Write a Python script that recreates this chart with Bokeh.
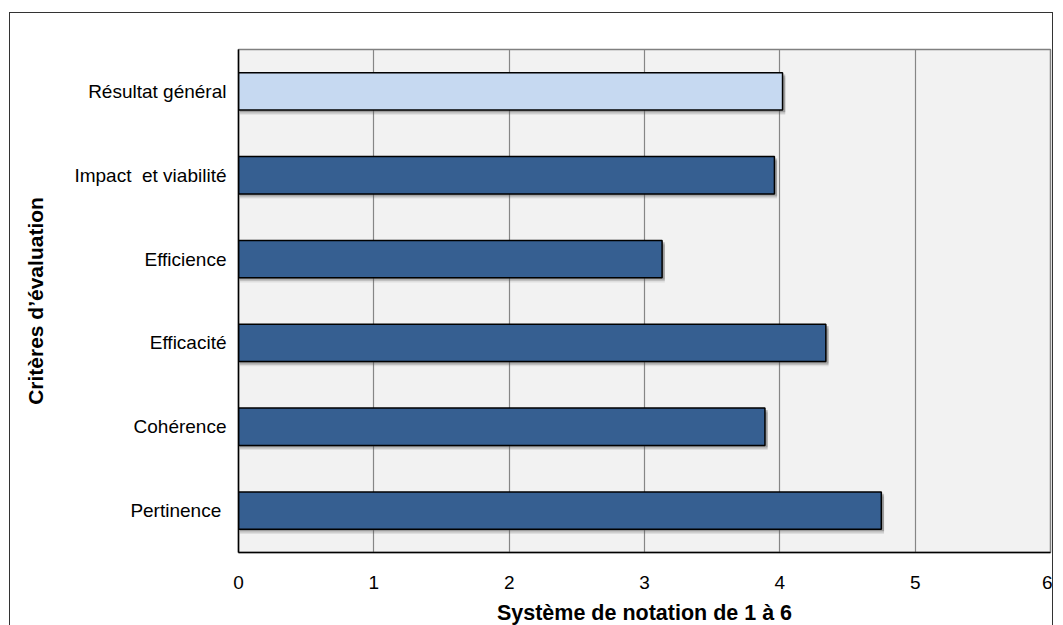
from bokeh.plotting import figure
from bokeh.models import FactorRange, Range1d, FixedTicker, ColumnDataSource
from bokeh.transform import dodge
from bokeh.embed import file_html
from bokeh.resources import INLINE

# Evaluation criteria (bottom to top) and their scores on a 1-6 scale
categories = ["Pertinence\u00a0", "Cohérence", "Efficacité", "Efficience",
              "Impact\u00a0 et viabilité", "Résultat général"]
scores = [4.75, 3.89, 4.34, 3.13, 3.96, 4.02]
x_ticks = [0, 1, 2, 3, 4, 5, 6]

DARK = "#365F91"
LIGHT = "#C6D9F1"
bar_colors = [DARK] * 5 + [LIGHT]

FONT = "Liberation Sans, Arial, sans-serif"

source = ColumnDataSource(dict(cat=categories, score=scores, color=bar_colors,
                               shadow=[s + 0.02 for s in scores]))

p = figure(width=1044, height=640,
           y_range=FactorRange(factors=categories, range_padding=0),
           x_range=Range1d(0, 6),
           output_backend="svg", toolbar_location=None,
           min_border_left=228, min_border_right=4,
           min_border_top=36, min_border_bottom=101)
p.styles = {"margin-left": "9px", "margin-top": "12px",
            "border": "1.5px solid #333333"}

p.background_fill_color = "#F2F2F2"
p.border_fill_color = "white"
p.outline_line_color = "#808080"
p.outline_line_width = 1.5

# soft drop shadow under each bar
for off, alpha in [(-0.022, 0.32), (-0.040, 0.22), (-0.056, 0.12)]:
    p.hbar(y=dodge("cat", off, range=p.y_range), left=0.01, right="shadow",
           height=0.445, source=source, fill_color="#555555",
           fill_alpha=alpha, line_color=None)

p.hbar(y="cat", left=0, right="score", height=0.445, source=source,
       fill_color="color", line_color="black", line_width=1.5)

p.ygrid.visible = False
p.xgrid.grid_line_color = "#868686"
p.xgrid.grid_line_width = 1.2

p.xaxis.ticker = FixedTicker(ticks=x_ticks)
for ax in (p.xaxis[0], p.yaxis[0]):
    ax.axis_line_color = "black"
    ax.axis_line_width = 1.5
    ax.major_tick_line_color = None
    ax.minor_tick_line_color = None
    ax.major_tick_out = 0
    ax.major_tick_in = 0
    ax.major_label_text_font = FONT
    ax.major_label_text_font_size = "19px"
    ax.major_label_text_color = "black"
    ax.axis_label_text_font = FONT
    ax.axis_label_text_font_style = "bold"
    ax.axis_label_text_color = "black"

p.xaxis.axis_label = "Système de notation de 1 à 6"
p.xaxis.axis_label_text_font_size = "21.5px"
p.xaxis.major_label_standoff = 23
p.xaxis.axis_label_standoff = 9
p.yaxis.axis_label = "Critères d’évaluation"
p.yaxis.axis_label_text_font_size = "21px"
p.yaxis.major_label_standoff = 12
p.yaxis.axis_label_standoff = 24

open("out.html", "w").write(file_html(p, INLINE))
